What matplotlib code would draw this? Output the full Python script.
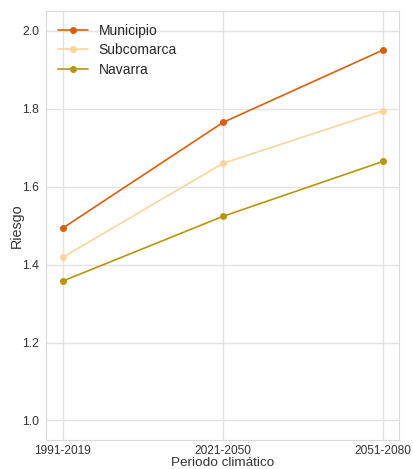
import matplotlib
matplotlib.use("Agg")
import matplotlib.pyplot as plt
import seaborn as sns

periodos = ["1991-2019", "2021-2050", "2051-2080"]
municipio = [1.494, 1.765, 1.951]
subcomarca = [1.419, 1.660, 1.795]
navarra = [1.358, 1.524, 1.665]

series = [
    ("Municipio", municipio, "#d95f0e"),
    ("Subcomarca", subcomarca, "#fdd49e"),
    ("Navarra", navarra, "#b8960c"),
]

sns.set_style("whitegrid")
plt.rcParams["font.family"] = ["Liberation Sans", "DejaVu Sans"]

fig = plt.figure(figsize=(4.14, 4.69), dpi=100)
ax = fig.add_axes([0.111, 0.0620, 0.853, 0.9145])

x = list(range(len(periodos)))
for name, vals, color in series:
    ax.plot(x, vals, marker="o", markersize=4, linewidth=1.2, color=color, label=name)

ax.set_xticks(x)
ax.set_xticklabels(periodos)
ax.set_ylim(0.950, 2.051)
ax.set_yticks([1.0, 1.2, 1.4, 1.6, 1.8, 2.0])
ax.set_xlim(-0.106, 2.1)
ax.tick_params(axis="x", labelsize=8.6, colors="#333333", pad=0.1)
ax.tick_params(axis="y", labelsize=8.8, colors="#333333", pad=1.5)
ax.set_xlabel("Periodo climático", fontsize=9.7, color="#333333", labelpad=0.1)
ax.set_ylabel("Riesgo", fontsize=10.3, color="#333333", labelpad=-1.5)
for s in ax.spines.values():
    s.set_color("#d9d9d9")
ax.grid(color="#e3e3e3", linewidth=1)

ax.legend(loc="upper left", frameon=False, fontsize=10, handlelength=2.1,
          handletextpad=0.8, borderaxespad=0.5, borderpad=0.4,
          labelspacing=0.4)

fig.savefig("out.png", dpi=100)
